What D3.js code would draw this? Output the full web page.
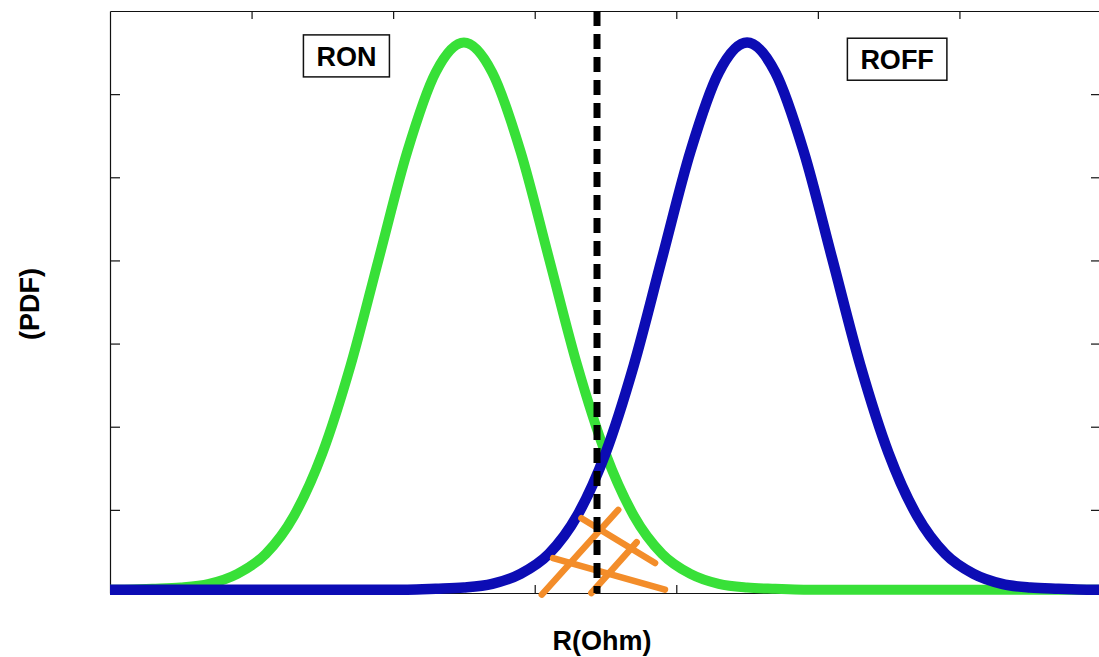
<!DOCTYPE html>
<html>
<head>
<meta charset="utf-8">
<script src="https://cdn.jsdelivr.net/npm/d3@7"></script>
<style>
  body { margin: 0; background: #fff; }
  svg { display: block; }
</style>
</head>
<body>
<svg width="1099" height="657"></svg>
<script>
// R values (arbitrary units along the x axis)
var rValues = [0, 0.1, 0.3, 0.5, 0.7, 0.9, 1.1, 1.3, 1.5, 1.7, 1.9, 2.1, 2.3, 2.5, 2.7, 2.9, 3.1, 3.3, 3.5,
  3.7, 3.9, 4.1, 4.3, 4.5, 4.7, 4.9, 5.1, 5.3, 5.5, 5.7, 5.9, 6.1, 6.3, 6.5, 6.7, 6.9, 7.0];

// PDF of RON (green)
var pdfOn = [0.04, 0.04, 0.05, 0.065, 0.11, 0.23, 0.47, 0.93, 1.68, 2.74, 4.03, 5.31, 6.26, 6.62, 6.26, 5.31, 4.03, 2.74, 1.68,
  0.93, 0.47, 0.23, 0.11, 0.065, 0.05, 0.04, 0.04, 0.04, 0.04, 0.04, 0.04, 0.04, 0.04, 0.04, 0.04, 0.04, 0.04];

// PDF of ROFF (blue)
var pdfOff = [0.04, 0.04, 0.04, 0.04, 0.04, 0.04, 0.04, 0.04, 0.04, 0.04, 0.04, 0.04, 0.05, 0.065, 0.11, 0.23, 0.47, 0.93, 1.68,
  2.74, 4.03, 5.31, 6.26, 6.62, 6.26, 5.31, 4.03, 2.74, 1.68, 0.93, 0.47, 0.23, 0.11, 0.065, 0.05, 0.04, 0.04];

var threshold = 3.44;   // dashed read threshold

// hand drawn hatching in the overlap region [x1, y1, x2, y2]
var hatch = [
  [3.05, -0.02, 3.59, 1.0],
  [3.40, 0.0, 3.72, 0.61],
  [3.33, 0.90, 3.85, 0.36],
  [3.13, 0.42, 3.92, 0.04]
];

var xTicks = [1, 2, 3, 4, 5, 6];
var yTicks = [1, 2, 3, 4, 5, 6];

var labels = [
  {text: "RON", x: 1.67, y: 6.46},
  {text: "ROFF", x: 5.56, y: 6.42}
];

var svg = d3.select("svg"),
    mLeft = 110, mRight = 1101, mTop = 11, mBottom = 593;

var x = d3.scaleLinear().domain([0, 7]).range([mLeft, mRight]);
var y = d3.scaleLinear().domain([0, 7]).range([mBottom, mTop]);

// axes box, ticks pointing inwards, no labels
svg.append("g")
    .attr("transform", "translate(0," + mBottom + ")")
    .call(d3.axisBottom(x).tickValues(xTicks).tickSizeInner(-8).tickSizeOuter(0).tickFormat(""));
svg.append("g")
    .attr("transform", "translate(0," + mTop + ")")
    .call(d3.axisTop(x).tickValues(xTicks).tickSizeInner(-8).tickSizeOuter(0).tickFormat(""));
svg.append("g")
    .attr("transform", "translate(" + mLeft + ",0)")
    .call(d3.axisLeft(y).tickValues(yTicks).tickSizeInner(-10).tickSizeOuter(0).tickFormat(""));
svg.append("g")
    .attr("transform", "translate(" + mRight + ",0)")
    .call(d3.axisRight(y).tickValues(yTicks).tickSizeInner(-10).tickSizeOuter(0).tickFormat(""));
svg.selectAll(".domain, .tick line").attr("stroke", "#111").attr("stroke-width", 1.2);

var line = d3.line()
    .x(function(d) { return x(d[0]); })
    .y(function(d) { return y(d[1]); })
    .curve(d3.curveMonotoneX);

svg.append("path")
    .datum(d3.zip(rValues, pdfOn))
    .attr("fill", "none")
    .attr("stroke", "#38e038")
    .attr("stroke-width", 10)
    .attr("stroke-linejoin", "round")
    .attr("d", line);

svg.append("path")
    .datum(d3.zip(rValues, pdfOff))
    .attr("fill", "none")
    .attr("stroke", "#0c0cb4")
    .attr("stroke-width", 10.5)
    .attr("stroke-linejoin", "round")
    .attr("d", line);

svg.selectAll(".hatch")
    .data(hatch)
  .enter().append("line")
    .attr("class", "hatch")
    .attr("x1", function(d) { return x(d[0]); })
    .attr("y1", function(d) { return y(d[1]); })
    .attr("x2", function(d) { return x(d[2]); })
    .attr("y2", function(d) { return y(d[3]); })
    .attr("stroke", "#f38d2a")
    .attr("stroke-width", 6.5)
    .attr("stroke-linecap", "round");

svg.append("line")
    .attr("x1", x(threshold)).attr("x2", x(threshold))
    .attr("y1", y(7)).attr("y2", y(0))
    .attr("stroke", "#000")
    .attr("stroke-width", 7)
    .attr("stroke-dasharray", "15,8");

// text boxes
labels.forEach(function(l) {
  var t = svg.append("text")
      .attr("x", x(l.x))
      .attr("y", y(l.y))
      .attr("dy", "0.36em")
      .attr("text-anchor", "middle")
      .attr("font-family", "Liberation Sans, Arial, sans-serif")
      .style("font-size", "27px")
      .style("font-weight", "bold")
      .text(l.text);
  var bb = t.node().getBBox();
  svg.insert("rect", function() { return t.node(); })
      .attr("x", bb.x - 13)
      .attr("y", y(l.y) - 21)
      .attr("width", bb.width + 26)
      .attr("height", 42)
      .attr("fill", "#fff")
      .attr("stroke", "#111")
      .attr("stroke-width", 1.5);
});

// axis titles
svg.append("text")
    .attr("x", 602)
    .attr("y", 640)
    .attr("dy", "0.36em")
    .attr("text-anchor", "middle")
    .attr("font-family", "Liberation Sans, Arial, sans-serif")
    .style("font-size", "27px")
    .style("font-weight", "bold")
    .text("R(Ohm)");

svg.append("text")
    .attr("transform", "translate(29,304) rotate(-90)")
    .attr("dy", "0.36em")
    .attr("text-anchor", "middle")
    .attr("font-family", "Liberation Sans, Arial, sans-serif")
    .style("font-size", "27px")
    .style("font-weight", "bold")
    .text("(PDF)");
</script>
</body>
</html>
